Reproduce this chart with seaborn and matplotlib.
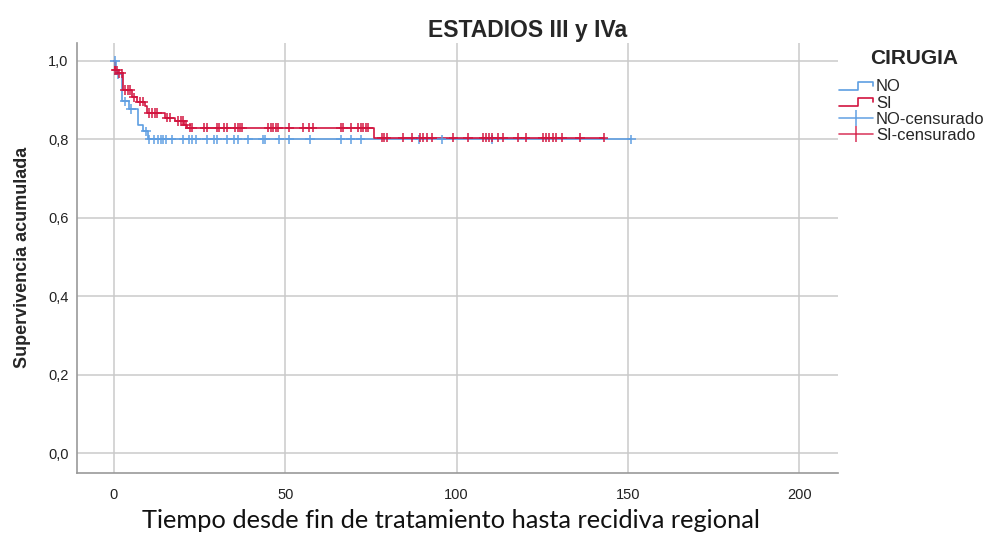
import numpy as np
import pandas as pd
import matplotlib
matplotlib.use("Agg")
import matplotlib.pyplot as plt
import seaborn as sns
from matplotlib.lines import Line2D
from matplotlib.legend_handler import HandlerBase

# Kaplan-Meier step curves (time in months, cumulative survival)
no_t = [0, 0.6, 2.3, 4.5, 7.1, 8.6, 10.0, 151.0]
no_s = [1.0, 0.966, 0.897, 0.877, 0.837, 0.820, 0.800, 0.800]

si_t = [0, 0.2, 1.2, 2.7, 5.2, 6.6, 9.0, 9.6, 14.9, 17.8, 20.5, 21.3, 76.0, 142.9]
si_s = [1.0, 0.976, 0.968, 0.926, 0.907, 0.896, 0.886, 0.867, 0.855, 0.847,
        0.837, 0.830, 0.804, 0.804]

# Censored observations
no_cens = [0.3, 1.3, 3.2, 5.0, 9.3, 10.3, 11.8, 12.8, 13.6, 14.4, 15.2, 16.8,
           20.2, 21.9, 22.9, 23.9, 27.1, 29.3, 30.1, 33.1, 35.0, 36.1, 39.2,
           43.4, 44.1, 48.3, 51.2, 57.2, 66.2, 69.1, 72.0, 89.1, 95.6, 110.2,
           151.0]
si_cens = [0.4, 0.9, 1.6, 2.2, 3.2, 4.0, 4.8, 5.7, 7.6, 8.5, 10.1, 11.0, 11.9,
           12.6, 15.4, 16.3, 18.8, 19.6, 20.2, 21.0, 22.1, 22.8, 26.4, 27.1,
           30.0, 30.7, 32.2, 32.9, 35.3, 36.1, 36.8, 37.5, 45.0, 45.8, 46.5,
           47.2, 48.0, 51.2, 55.3, 57.0, 58.0, 66.2, 66.9, 69.1, 71.3, 72.1,
           72.8, 73.5, 74.2, 78.1, 78.8, 79.6, 84.3, 87.0, 89.4, 90.3, 91.3,
           92.8, 99.0, 103.3, 107.8, 108.6, 109.4, 110.3, 112.0, 113.6, 117.8,
           120.2, 125.2, 126.1, 127.0, 128.0, 129.0, 130.9, 136.0, 142.9]

groups = ["NO", "SI"]
legend_labels = ["NO", "SI", "NO-censurado", "SI-censurado"]
x_ticks = [0, 50, 100, 150, 200]
y_ticks = [0.0, 0.2, 0.4, 0.6, 0.8, 1.0]

BLUE = "#5e9ee2"
RED = "#d2143f"
palette = {"NO": BLUE, "SI": RED}


def survival_at(times, steps_t, steps_s):
    idx = np.searchsorted(steps_t, times, side="right") - 1
    return np.asarray(steps_s)[idx]


steps = pd.concat([
    pd.DataFrame({"t": no_t, "S": no_s, "grupo": "NO"}),
    pd.DataFrame({"t": si_t, "S": si_s, "grupo": "SI"}),
], ignore_index=True)

cens = pd.concat([
    pd.DataFrame({"t": no_cens, "S": survival_at(no_cens, no_t, no_s), "grupo": "NO"}),
    pd.DataFrame({"t": si_cens, "S": survival_at(si_cens, si_t, si_s), "grupo": "SI"}),
], ignore_index=True)

sns.set_style("white")
plt.rcParams["font.family"] = ["Liberation Sans", "DejaVu Sans"]

fig = plt.figure(figsize=(9.87, 5.35), dpi=100)
ax = fig.add_axes([0.078, 0.116, 0.771, 0.804])

for v in x_ticks:
    ax.axvline(v, color="#cacaca", lw=1.1, zorder=0)
for h in y_ticks:
    ax.axhline(h, color="#cacaca", lw=1.1, zorder=0)

sns.lineplot(data=steps, x="t", y="S", hue="grupo", hue_order=groups,
             palette=palette, estimator=None, sort=False,
             drawstyle="steps-post", linewidth=1.2, legend=False, ax=ax,
             zorder=2)
sns.scatterplot(data=cens, x="t", y="S", hue="grupo", hue_order=groups,
                palette=palette, marker="+", s=45, linewidth=1.2,
                alpha=0.9, legend=False, ax=ax, zorder=3)

ax.set_xlim(-10.8, 211.3)
ax.set_ylim(-0.050, 1.046)
ax.set_xticks(x_ticks)
ax.set_xticklabels([str(v) for v in x_ticks])
ax.set_yticks(y_ticks)
ax.set_yticklabels([f"{v:.1f}".replace(".", ",") for v in y_ticks])
ax.tick_params(axis="both", length=0, labelsize=10.5, colors="#222222")
ax.tick_params(axis="x", pad=11)
ax.tick_params(axis="y", pad=6)
ax.set_xlabel("")

for side in ["top", "right"]:
    ax.spines[side].set_visible(False)
for side in ["left", "bottom"]:
    ax.spines[side].set_color("#999999")
    ax.spines[side].set_linewidth(1.2)

ax.set_ylabel("Supervivencia acumulada", fontsize=13, fontweight="bold",
              labelpad=12)

fig.text(451 / 987, 1 - 521 / 535,
         "Tiempo desde fin de tratamiento hasta recidiva regional",
         ha="center", va="center", fontsize=18.3,
         family=["Lato", "DejaVu Sans"], color="#111111")

fig.text(528 / 987, 1 - 30 / 535, "ESTADIOS III y IVa", ha="center",
         va="center", fontsize=16.5, fontweight="bold")

fig.text(914 / 987, 1 - 58 / 535, "CIRUGIA", ha="center", va="center",
         fontsize=15, fontweight="bold")


class StepHandler(HandlerBase):
    def create_artists(self, legend, orig_handle, xdescent, ydescent, width,
                       height, fontsize, trans):
        x0, y0 = -xdescent, -ydescent
        xs = [x0, x0 + 0.55 * width, x0 + 0.55 * width, x0 + width, x0 + width]
        ys = [y0 + 0.1 * height, y0 + 0.1 * height, y0 + 0.8 * height,
              y0 + 0.8 * height, y0 + 0.45 * height]
        ln = Line2D(xs, ys, color=orig_handle.get_color(),
                    lw=orig_handle.get_linewidth(), transform=trans)
        return [ln]


h_no = Line2D([], [], color=BLUE, lw=1.2)
h_si = Line2D([], [], color=RED, lw=1.2)
h_no_c = Line2D([], [], color=BLUE, lw=1.2, marker="|", markersize=11,
                markeredgewidth=1.2, alpha=0.9)
h_si_c = Line2D([], [], color=RED, lw=1.2, marker="|", markersize=11,
                markeredgewidth=1.2, alpha=0.8)

leg = fig.legend([h_no, h_si, h_no_c, h_si_c], legend_labels,
                 handler_map={h_no: StepHandler(), h_si: StepHandler()},
                 loc="upper left", bbox_to_anchor=(836 / 987, 1 - 76 / 535),
                 frameon=False, fontsize=12, handlelength=2.0,
                 handletextpad=0.2, labelspacing=0.07, borderpad=0.2,
                 borderaxespad=0)

fig.savefig("out.png", dpi=100)
